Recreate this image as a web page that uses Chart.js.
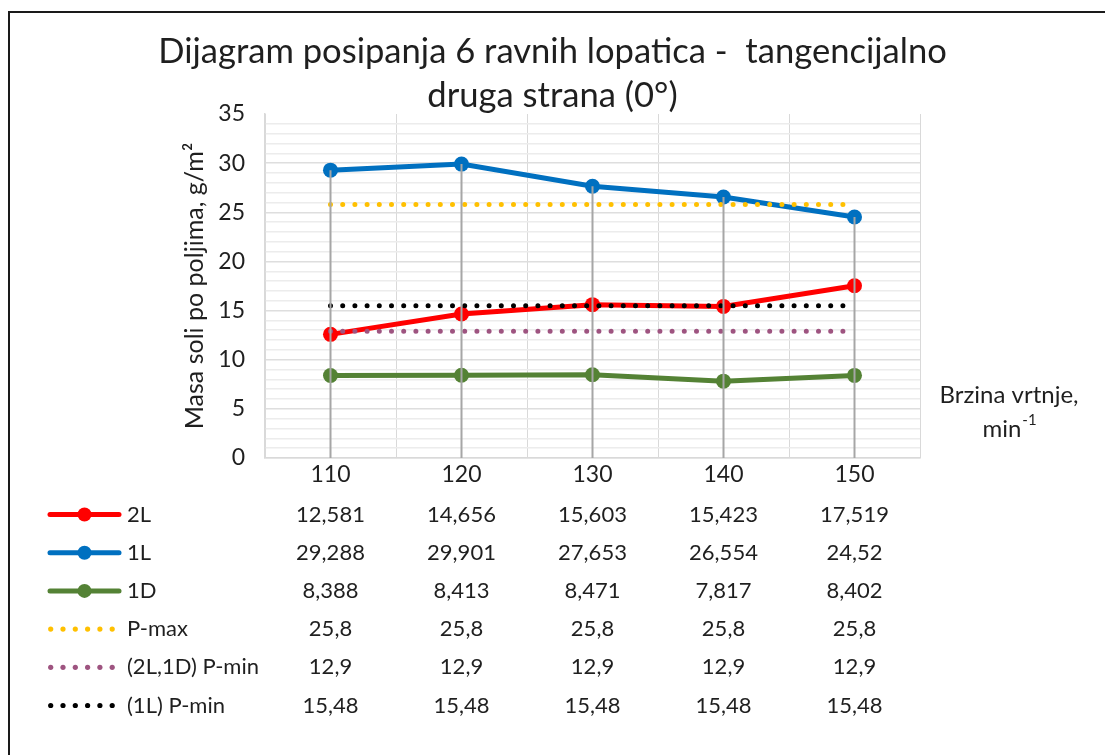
<!DOCTYPE html>
<html>
<head>
<meta charset="utf-8">
<script src="https://cdn.jsdelivr.net/npm/chart.js@4/dist/chart.umd.min.js"></script>
<style>
  html, body { margin: 0; padding: 0; background: #fff; }
  #wrap { width: 1105px; height: 755px; }
</style>
</head>
<body>
<div id="wrap"><canvas id="c" width="1105" height="755"></canvas></div>
<script>
// Rotation speed categories (min^-1)
const speeds = ['110', '120', '130', '140', '150'];

// Salt mass per field, g/m2
const s2L = [12.581, 14.656, 15.603, 15.423, 17.519];
const s1L = [29.288, 29.901, 27.653, 26.554, 24.52];
const s1D = [8.388, 8.413, 8.471, 7.817, 8.402];

// Reference limits
const pMax = [25.8, 25.8, 25.8, 25.8, 25.8];
const pMin2L1D = [12.9, 12.9, 12.9, 12.9, 12.9];
const pMin1L = [15.48, 15.48, 15.48, 15.48, 15.48];

const seriesNames = ['2L', '1L', '1D', 'P-max', '(2L,1D) P-min', '(1L) P-min'];

const titleLines = ['Dijagram posipanja 6 ravnih lopatica -  tangencijalno', 'druga strana (0°)'];
const yTitle = 'Masa soli po poljima, g/m²';
const xTitleLine1 = 'Brzina vrtnje,';
const xTitleUnit = 'min';
const xTitleExp = '-1';

const FONT = 'Lato, "Open Sans", sans-serif';
const TEXT = '#1f1f1f';

function solid(label, data, color, idx) {
  return {
    label, data,
    borderColor: color, backgroundColor: color,
    borderWidth: 5, tension: 0,
    pointRadius: 7.5, pointHoverRadius: 7.5,
    pointBackgroundColor: color, pointBorderWidth: 0,
    order: 5 - idx, dotted: false
  };
}
function dotted(label, data, color, idx) {
  return {
    label, data,
    borderColor: color, backgroundColor: color,
    borderWidth: 5, tension: 0,
    borderDash: [0, 12.2], borderCapStyle: 'round',
    pointRadius: 0, pointHoverRadius: 0,
    order: 5 - idx, dotted: true
  };
}

const datasets = [
  solid(seriesNames[0], s2L, '#ff0000', 0),
  solid(seriesNames[1], s1L, '#0070c0', 1),
  solid(seriesNames[2], s1D, '#548235', 2),
  dotted(seriesNames[3], pMax, '#ffc000', 3),
  dotted(seriesNames[4], pMin2L1D, '#9e5480', 4),
  dotted(seriesNames[5], pMin1L, '#000000', 5)
];

const fmt = v => String(v).replace('.', ',');

// White page, outer frame and the two-line heading centred on the page
const framePlugin = {
  id: 'frame',
  beforeDraw(chart) {
    const ctx = chart.ctx;
    ctx.save();
    ctx.fillStyle = '#fff';
    ctx.fillRect(0, 0, chart.width, chart.height);
    ctx.strokeStyle = '#1a1a1a';
    ctx.lineWidth = 2;
    ctx.strokeRect(9, 12, chart.width + 40, chart.height + 40);

    ctx.fillStyle = TEXT;
    ctx.font = '34.6px ' + FONT;
    ctx.textAlign = 'center';
    ctx.textBaseline = 'middle';
    titleLines.forEach((line, i) => ctx.fillText(line, chart.width / 2, 52 + i * 43.8));
    ctx.restore();
  }
};

// Vertical drop lines from the highest measured point down to the axis
const dropLinePlugin = {
  id: 'dropLines',
  afterDatasetsDraw(chart) {
    const { ctx, scales: { x, y } } = chart;
    ctx.save();
    ctx.strokeStyle = '#a6a6a6';
    ctx.lineWidth = 2;
    speeds.forEach((_, i) => {
      const top = Math.max(s2L[i], s1L[i], s1D[i]);
      const px = x.getPixelForValue(i);
      ctx.beginPath();
      ctx.moveTo(px, y.getPixelForValue(top));
      ctx.lineTo(px, y.getPixelForValue(0));
      ctx.stroke();
    });
    ctx.restore();
  }
};

// Axis title on the right and the data table under the plot
const tablePlugin = {
  id: 'dataTable',
  afterDraw(chart) {
    const { ctx, scales: { x } } = chart;
    ctx.save();
    ctx.fillStyle = TEXT;
    ctx.textBaseline = 'middle';

    // x axis title at the right of the plot
    ctx.font = '24px ' + FONT;
    ctx.textAlign = 'center';
    const cx = 1009;
    ctx.fillText(xTitleLine1, cx, 395);
    const wUnit = ctx.measureText(xTitleUnit).width;
    ctx.font = '15px ' + FONT;
    const wExp = ctx.measureText(xTitleExp).width;
    const startX = cx - (wUnit + wExp) / 2;
    ctx.textAlign = 'left';
    ctx.font = '24px ' + FONT;
    ctx.fillText(xTitleUnit, startX, 429);
    ctx.font = '15px ' + FONT;
    ctx.fillText(xTitleExp, startX + wUnit + 1, 420);

    // table rows
    const rowY0 = 514.5, rowStep = 38.2;
    chart.data.datasets.forEach((ds, r) => {
      const ry = rowY0 + r * rowStep;
      ctx.save();
      if (ds.dotted) {
        ctx.fillStyle = ds.borderColor;
        for (let k = 0; k < 6; k++) {
          ctx.beginPath();
          ctx.arc(50.7 + k * 12.3, ry, 2.6, 0, Math.PI * 2);
          ctx.fill();
        }
      } else {
        ctx.strokeStyle = ds.borderColor;
        ctx.lineWidth = 5;
        ctx.lineCap = 'round';
        ctx.beginPath();
        ctx.moveTo(50, ry);
        ctx.lineTo(119, ry);
        ctx.stroke();
        ctx.fillStyle = ds.borderColor;
        ctx.beginPath();
        ctx.arc(84.5, ry, 7, 0, Math.PI * 2);
        ctx.fill();
      }
      ctx.restore();

      ctx.font = '22px ' + FONT;
      ctx.textAlign = 'left';
      ctx.fillText(ds.label, 127, ry);
      ctx.textAlign = 'center';
      ds.data.forEach((v, i) => {
        ctx.fillText(fmt(v), x.getPixelForValue(i), ry);
      });
    });
    ctx.restore();
  }
};

new Chart(document.getElementById('c'), {
  type: 'line',
  data: { labels: speeds, datasets },
  plugins: [framePlugin, dropLinePlugin, tablePlugin],
  options: {
    responsive: false,
    animation: false,
    devicePixelRatio: 1,
    layout: { padding: { left: 180, right: 185, top: 114, bottom: 267 } },
    plugins: {
      legend: { display: false },
      tooltip: { enabled: false },
      title: { display: false }
    },
    scales: {
      x: {
        type: 'category',
        offset: true,
        grid: { offset: true, color: '#d9d9d9', lineWidth: 1, drawTicks: false },
        border: { color: '#d9d9d9', width: 1.5 },
        ticks: { color: TEXT, font: { family: FONT, size: 23 }, padding: 3 },
        afterFit(s) { s.height = 30; }
      },
      y: {
        min: 0, max: 35,
        ticks: {
          stepSize: 1, autoSkip: false, maxTicksLimit: 50,
          color: TEXT, font: { family: FONT, size: 23 }, padding: 20,
          callback: v => (v % 5 === 0 ? String(v) : '')
        },
        grid: {
          drawTicks: false,
          color: c => c.tick.value === 35 ? 'rgba(0,0,0,0)' : (c.tick.value % 5 === 0 ? '#dedede' : '#ececec'),
          lineWidth: 1.5
        },
        border: { color: '#d9d9d9', width: 1.5 },
        title: {
          display: true, text: yTitle, color: TEXT,
          font: { family: FONT, size: 25 }, padding: { top: 0, bottom: 0 }
        },
        afterFit(s) { s.width = 85; }
      }
    }
  }
});
</script>
</body>
</html>
